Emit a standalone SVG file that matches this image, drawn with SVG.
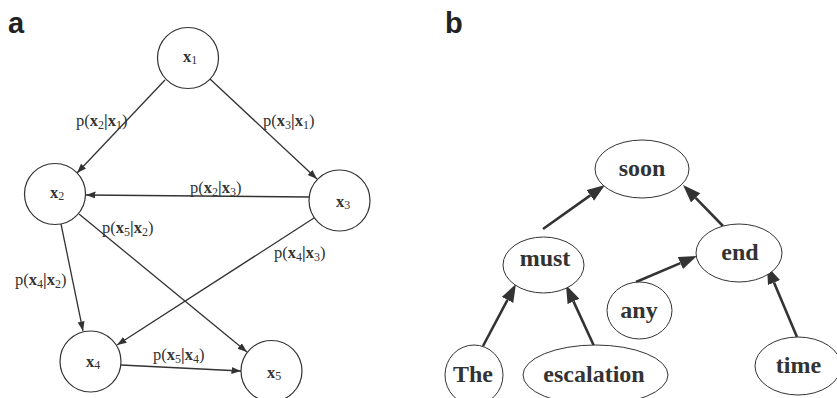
<svg xmlns="http://www.w3.org/2000/svg" width="837" height="398" viewBox="0 0 837 398">
  <style>
    .panel { font-family: "Liberation Sans", Arial, sans-serif; font-weight: bold; font-size: 29px; fill: #222; }
    .node { fill: #fff; stroke: #333; stroke-width: 1.2; }
    .lbl { font-family: "Liberation Serif", "Times New Roman", serif; font-size: 16.5px; fill: #333; }
    .b { font-weight: bold; }
    .s { font-size: 12px; font-weight: normal; }
    .edge { fill: none; stroke: #333; stroke-width: 1.3; }
    .edge-b { fill: none; stroke: #333; stroke-width: 2.6; }
    .word { font-family: "Liberation Serif", "Times New Roman", serif; font-size: 24px; font-weight: bold; fill: #333; text-anchor: middle; }
    .wnode { fill: #fff; stroke: #333; stroke-width: 1; }
  </style>
  <defs>
    <marker id="arrow-thin" markerUnits="userSpaceOnUse" markerWidth="10" markerHeight="8" refX="9.5" refY="3.5" orient="auto">
      <path d="M0,0 L9.5,3.5 L0,7 z" fill="#333"/>
    </marker>
    <marker id="arrow-bold" markerUnits="userSpaceOnUse" markerWidth="19" markerHeight="14" refX="0" refY="6.5" orient="auto">
      <path d="M0,0 L18,6.5 L0,13 z" fill="#333"/>
    </marker>
  </defs>
  <rect width="837" height="398" fill="#fff"/>

  <!-- panel letters -->
  <text class="panel" x="8" y="33">a</text>
  <text class="panel" x="445" y="33">b</text>

  <!-- panel a: connectors -->
  <g id="edges-a">
    <line class="edge" x1="165" y1="80" x2="77" y2="173" marker-end="url(#arrow-thin)"/>
    <line class="edge" x1="210" y1="79" x2="317" y2="179" marker-end="url(#arrow-thin)"/>
    <line class="edge" x1="309" y1="197" x2="86" y2="195" marker-end="url(#arrow-thin)"/>
    <line class="edge" x1="79" y1="214" x2="247" y2="352" marker-end="url(#arrow-thin)"/>
    <line class="edge" x1="314" y1="218" x2="117" y2="345" marker-end="url(#arrow-thin)"/>
    <line class="edge" x1="61" y1="224" x2="83" y2="331" marker-end="url(#arrow-thin)"/>
    <line class="edge" x1="121" y1="365" x2="241" y2="371" marker-end="url(#arrow-thin)"/>

    <text class="lbl" x="76" y="126">p(<tspan class="b">x</tspan><tspan class="s" dy="3">2</tspan><tspan class="b" dy="-3">|x</tspan><tspan class="s" dy="3">1</tspan><tspan dy="-3">)</tspan></text>
    <text class="lbl" x="263" y="126">p(<tspan class="b">x</tspan><tspan class="s" dy="3">3</tspan><tspan class="b" dy="-3">|x</tspan><tspan class="s" dy="3">1</tspan><tspan dy="-3">)</tspan></text>
    <text class="lbl" x="190" y="193">p(<tspan class="b">x</tspan><tspan class="s" dy="3">2</tspan><tspan class="b" dy="-3">|x</tspan><tspan class="s" dy="3">3</tspan><tspan dy="-3">)</tspan></text>
    <text class="lbl" x="102" y="233">p(<tspan class="b">x</tspan><tspan class="s" dy="3">5</tspan><tspan class="b" dy="-3">|x</tspan><tspan class="s" dy="3">2</tspan><tspan dy="-3">)</tspan></text>
    <text class="lbl" x="274" y="258">p(<tspan class="b">x</tspan><tspan class="s" dy="3">4</tspan><tspan class="b" dy="-3">|x</tspan><tspan class="s" dy="3">3</tspan><tspan dy="-3">)</tspan></text>
    <text class="lbl" x="15" y="285">p(<tspan class="b">x</tspan><tspan class="s" dy="3">4</tspan><tspan class="b" dy="-3">|x</tspan><tspan class="s" dy="3">2</tspan><tspan dy="-3">)</tspan></text>
    <text class="lbl" x="153" y="360">p(<tspan class="b">x</tspan><tspan class="s" dy="3">5</tspan><tspan class="b" dy="-3">|x</tspan><tspan class="s" dy="3">4</tspan><tspan dy="-3">)</tspan></text>
  </g>

  <!-- panel a: variable nodes -->
  <g id="x1">
    <circle class="node" cx="188" cy="58" r="30.5"/>
    <text class="lbl" x="190" y="62" text-anchor="middle"><tspan class="b">x</tspan><tspan class="s" dy="2">1</tspan></text>
  </g>
  <g id="x2">
    <circle class="node" cx="55" cy="194" r="30.5"/>
    <text class="lbl" x="57" y="198" text-anchor="middle"><tspan class="b">x</tspan><tspan class="s" dy="2">2</tspan></text>
  </g>
  <g id="x3">
    <circle class="node" cx="339.5" cy="200.5" r="30.5"/>
    <text class="lbl" x="343" y="207" text-anchor="middle"><tspan class="b">x</tspan><tspan class="s" dy="2">3</tspan></text>
  </g>
  <g id="x4">
    <circle class="node" cx="90.5" cy="361.5" r="30.5"/>
    <text class="lbl" x="93" y="367" text-anchor="middle"><tspan class="b">x</tspan><tspan class="s" dy="2">4</tspan></text>
  </g>
  <g id="x5">
    <circle class="node" cx="271.5" cy="371" r="30.5"/>
    <text class="lbl" x="274" y="378" text-anchor="middle"><tspan class="b">x</tspan><tspan class="s" dy="2">5</tspan></text>
  </g>

  <!-- panel b: dependency arrows -->
  <g id="edges-b">
    <line class="edge-b" x1="543" y1="229" x2="590.3" y2="195.4" marker-end="url(#arrow-bold)"/>
    <line class="edge-b" x1="723" y1="226" x2="695.6" y2="197.9" marker-end="url(#arrow-bold)"/>
    <line class="edge-b" x1="483" y1="346" x2="507.5" y2="299.9" marker-end="url(#arrow-bold)"/>
    <line class="edge-b" x1="594" y1="346" x2="573.5" y2="301.4" marker-end="url(#arrow-bold)"/>
    <line class="edge-b" x1="636" y1="282" x2="680.4" y2="263.1" marker-end="url(#arrow-bold)"/>
    <line class="edge-b" x1="797" y1="337" x2="774" y2="282.6" marker-end="url(#arrow-bold)"/>
  </g>

  <!-- panel b: word nodes -->
  <g id="soon">
    <ellipse class="wnode" cx="642" cy="169" rx="47" ry="29"/>
    <text class="word" x="642" y="176">soon</text>
  </g>
  <g id="must">
    <ellipse class="wnode" cx="543.5" cy="265" rx="40.5" ry="28"/>
    <text class="word" x="545" y="266">must</text>
  </g>
  <g id="end">
    <ellipse class="wnode" cx="739" cy="253" rx="43" ry="29"/>
    <text class="word" x="740" y="260">end</text>
  </g>
  <g id="any">
    <ellipse class="wnode" cx="639.5" cy="310.5" rx="32.5" ry="28.5"/>
    <text class="word" x="639" y="318">any</text>
  </g>
  <g id="The">
    <ellipse class="wnode" cx="474" cy="375" rx="29" ry="30"/>
    <text class="word" x="473" y="382">The</text>
  </g>
  <g id="escalation">
    <ellipse class="wnode" cx="595.5" cy="375" rx="72.5" ry="30"/>
    <text class="word" x="594" y="382">escalation</text>
  </g>
  <g id="time">
    <ellipse class="wnode" cx="798" cy="366" rx="43" ry="29"/>
    <text class="word" x="798.5" y="373">time</text>
  </g>
</svg>
